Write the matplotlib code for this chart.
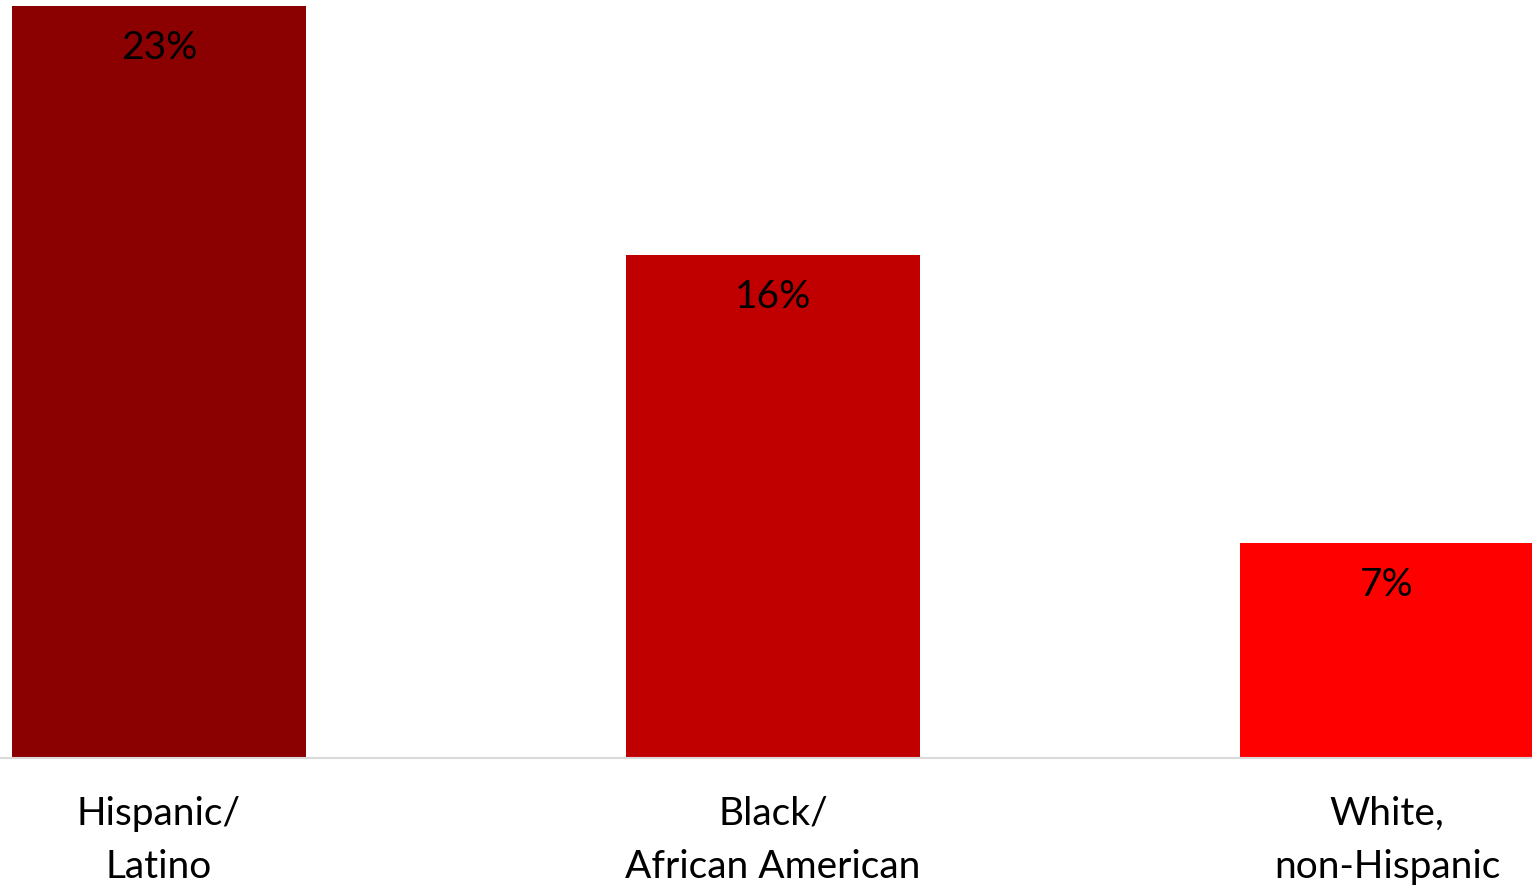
import matplotlib

matplotlib.use("Agg")
import matplotlib.pyplot as plt  # noqa: E402
import numpy as np  # noqa: E402

# --- data ---------------------------------------------------------------
categories = ["Hispanic/\nLatino", "Black/\nAfrican American", "White,\nnon-Hispanic"]
values = [23.4, 15.65, 6.7]
value_labels = ["23%", "16%", "7%"]
colors = ["#8B0000", "#C00000", "#FF0000"]

plt.rcParams["font.family"] = ["Lato", "DejaVu Sans"]

fig = plt.figure(figsize=(15.32, 8.85), dpi=100)
ax = fig.add_axes([0.0, 127 / 885, 1.0, 1 - 127 / 885])

x = np.arange(len(categories))
bars = ax.bar(x, values, width=0.479, color=colors)

# подписи значений внутри столбца, у верхнего края
for rect, lab in zip(bars, value_labels):
    ax.annotate(lab, (rect.get_x() + rect.get_width() / 2, rect.get_height()),
                xytext=(0, -42), textcoords="offset pixels",
                ha="center", va="center", fontsize=28, color="black")

ax.set_xlim(-159 / 614, (1532 - 159) / 614)
ax.set_ylim(0, 23.4 * 758 / 752)

ax.set_xticks(x)
ax.set_xticklabels(categories, fontsize=28, linespacing=1.6)
ax.tick_params(axis="x", length=0, pad=27)
ax.set_yticks([])
for side in ("top", "left", "right"):
    ax.spines[side].set_visible(False)
ax.spines["bottom"].set_color("#D9D9D9")
ax.spines["bottom"].set_linewidth(1.5)

fig.savefig("out.png", dpi=100)
plt.close(fig)
